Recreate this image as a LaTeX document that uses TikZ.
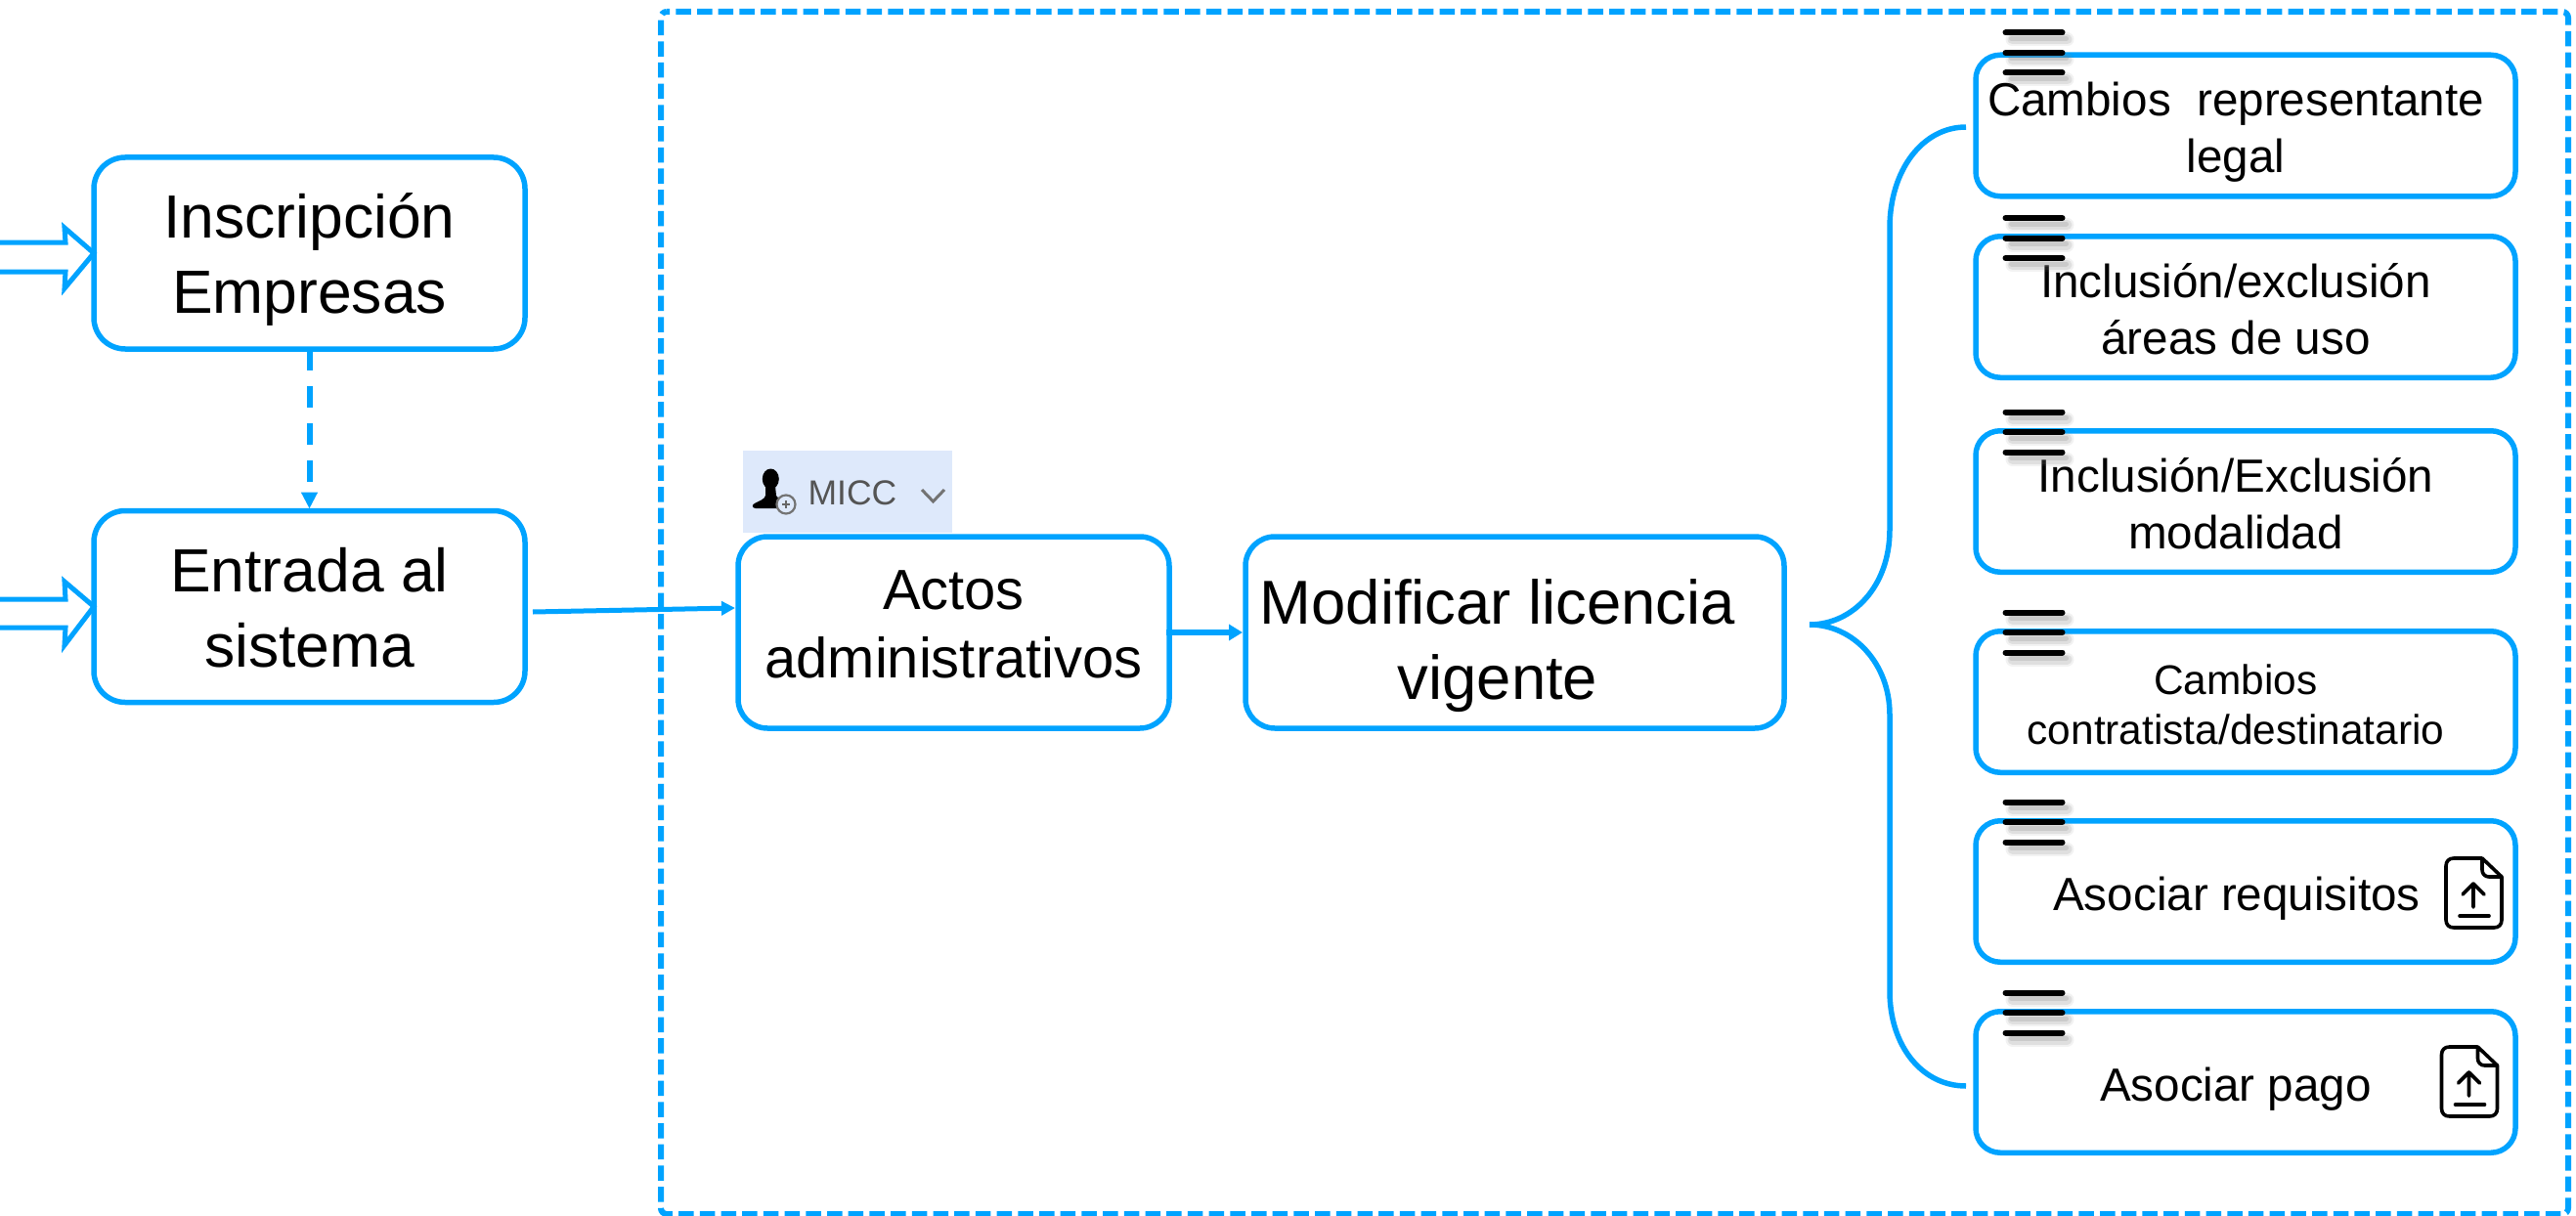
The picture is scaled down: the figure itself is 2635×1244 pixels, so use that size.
\documentclass[tikz,border=0pt]{standalone}
\usepackage{fontspec}
\setmainfont{Liberation Sans}
\usetikzlibrary{arrows.meta}
\definecolor{bl}{HTML}{00A3FF}
\definecolor{micbg}{HTML}{DEE9FB}
% dx, baseline shift, font size + leading, text
\newcommand{\placetext}[5]{\makebox[0pt]{\hspace*{\dimexpr 2\dimexpr #1pt\relax\relax}\raisebox{#2pt}[0pt][0pt]{\parbox[b]{620pt}{\fontsize{#3}{#4}\selectfont\centering #5}}}}
\tikzset{
  x=1pt,y=-1pt,
  flowbox/.style={draw=bl,line width=5.5pt,rounded corners=#1,inner sep=0pt,outer sep=0pt,text=black},
  flowbox/.default=31pt,
  subbox/.style={flowbox=25pt,minimum width=552pt,minimum height=144.5pt},
  lefttbox/.style={flowbox=32pt,minimum width=441pt,minimum height=196pt},
  link/.style={draw=bl,line width=6pt,-{Triangle[length=14pt,width=16pt]}},
  hollow/.style={draw=bl,line width=5pt,line join=miter},
  menuicon/.pic={
    \foreach \yy in {-20.5,0,20.5}{
      \draw[gray,opacity=.10,line width=14pt,line cap=round] (-28+6,\yy+7) -- (28+6,\yy+7);
      \draw[gray,opacity=.16,line width=10pt,line cap=round] (-28+6,\yy+7) -- (28+6,\yy+7);
      \draw[gray,opacity=.22,line width=5pt,line cap=round] (-28+5,\yy+6) -- (28+5,\yy+6);
      \draw[black,line width=6pt,line cap=round] (-29,\yy) -- (29,\yy);
    }
  },
  fileicon/.pic={
    \draw[black,line width=3.6pt,line join=round]
      (37,0) -- (8,0) .. controls (3,0) and (0,3) .. (0,8) -- (0,63) .. controls (0,68) and (3,71) .. (8,71)
      -- (49,71) .. controls (54,71) and (57,68) .. (57,63) -- (57,19) -- (37,0) -- (37,12)
      .. controls (37,16) and (40,19) .. (44,19) -- (57,19);
    \draw[black,line width=3.6pt,line cap=round,line join=round] (28,50) -- (28,26) (17,37) -- (28,26) -- (39,37);
    \draw[black,line width=3.6pt,line cap=round] (14,59) -- (44,59);
  }
}
\begin{document}
\begin{tikzpicture}
\useasboundingbox (0,0) rectangle (2635,1244);
\fill[white] (0,0) rectangle (2635,1244);

% dashed frame
\draw[bl,line width=6pt,dash pattern=on 15.5pt off 6.2pt,dash phase=12.4pt,rounded corners=6pt] (676,12) -- (2627,12) -- (2627,1242) -- (676,1242) -- cycle;

% left boxes
\node[lefttbox] (ins) at (316.5,259) {\placetext{0}{-61.6}{62.4}{76.7}{Inscripción\\Empresas}};
\node[lefttbox] (ent) at (316.5,620.5) {\placetext{0}{-62}{62.4}{76.7}{Entrada al\\sistema}};

% hollow input arrows
\coordinate (intip) at (ins.west);
\coordinate (entip) at (ent.west);
\draw[hollow] (-6,248) -- (67,248) -- (66,233) -- (intip) -- (66,295) -- (67,278) -- (-6,278);
\draw[hollow] (-6,613) -- (67,613) -- (66,595) -- (entip) -- (66,660) -- (67,642) -- (-6,642);

% middle boxes
\node[flowbox=30pt,minimum width=441pt,minimum height=196pt] (act) at (975.5,647) {\placetext{0}{-46}{57.9}{70}{Actos\\administrativos}};
\node[flowbox=30pt,minimum width=551pt,minimum height=196pt] (mod) at (1549.5,647) {\placetext{-17.5}{-68}{63.4}{77}{Modificar licencia\\vigente}};

% MICC tag
\node[fill=micbg,inner sep=0pt,minimum width=214pt,minimum height=84pt,text=black!67] (micc) at (867,503) {\placetext{5}{-13}{35.5}{40}{MICC}};
\fill[black] (788.3,490) ellipse (8.5 and 10.5);
\fill[black] (783,497) -- (793,497) -- (794,507) .. controls (798,511) and (799,514) .. (797,520) -- (773,520)
  .. controls (769,520) and (769,516) .. (772,515) .. controls (777,512) and (782,511) .. (783,507) -- cycle;
\draw[black!55,line width=2.2pt,fill=micbg] (804,516) circle (9.5);
\draw[black!60,line width=2pt] (800,516) -- (808,516) (804,512) -- (804,520);
\draw[black!55,line width=3pt] (943,501) -- (954.5,513) -- (966,501);

% right boxes
\node[subbox] (r1) at (2297,128.5) {\placetext{-10}{-47.6}{47.6}{57.4}{Cambios\ \ representante\\legal}};
\node[subbox] (r2) at (2297,314) {\placetext{-10}{-48}{47.6}{57.4}{Inclusión/exclusión\\áreas de uso}};
\node[subbox] (r3) at (2297,513) {\placetext{-10}{-48}{47.6}{57.4}{Inclusión/Exclusión\\modalidad}};
\node[subbox] (r4) at (2297,718) {\placetext{-10}{-43.6}{42.4}{51.6}{Cambios\\contratista/destinatario}};
\node[subbox] (r5) at (2297,912) {\placetext{-9}{-19.5}{47.6}{57.4}{Asociar requisitos}};
\node[subbox] (r6) at (2297,1107) {\placetext{-10}{-19}{47.6}{57.4}{Asociar pago}};

% connectors
\draw[draw=bl,line width=6pt,dashed,dash pattern=on 22pt off 16pt,-{Triangle[length=17pt,width=16pt]}] (ins.south) -- ([yshift=2pt]ent.north);
\draw[link,line width=5pt,-{Triangle[length=14pt,width=14pt]}] ([xshift=8pt,yshift=-5.5pt]ent.east) -- ([xshift=-3pt,yshift=25pt]act.west);
\draw[link] ([xshift=-3pt]act.east) -- ([xshift=-3pt]mod.west);

% big brace
\coordinate (bracetip) at ([xshift=26pt,yshift=8pt]mod.east);
\coordinate (bracetop) at ([xshift=-10pt,yshift=-1.5pt]r1.west);
\coordinate (bracebot) at ([xshift=-10pt,yshift=-4pt]r6.west);
\draw[bl,line width=5.5pt]
  (bracetop) .. controls (1966,130) and (1933,175) .. (1933,233) -- (1933,542)
  .. controls (1933,600) and (1895,639) .. (bracetip)
  .. controls (1895,639) and (1933,678) .. (1933,731) -- (1933,1014)
  .. controls (1933,1070) and (1966,1111) .. (bracebot);

% menu glyphs
\pic at (2080.5,54) {menuicon};
\pic at (2080.5,243.5) {menuicon};
\pic at (2080.5,442) {menuicon};
\pic at (2080.5,647) {menuicon};
\pic at (2080.5,841) {menuicon};
\pic at (2080.5,1036) {menuicon};

% file icons
\pic at (2502,878) {fileicon};
\pic at (2497.5,1071) {fileicon};
\end{tikzpicture}
\end{document}
